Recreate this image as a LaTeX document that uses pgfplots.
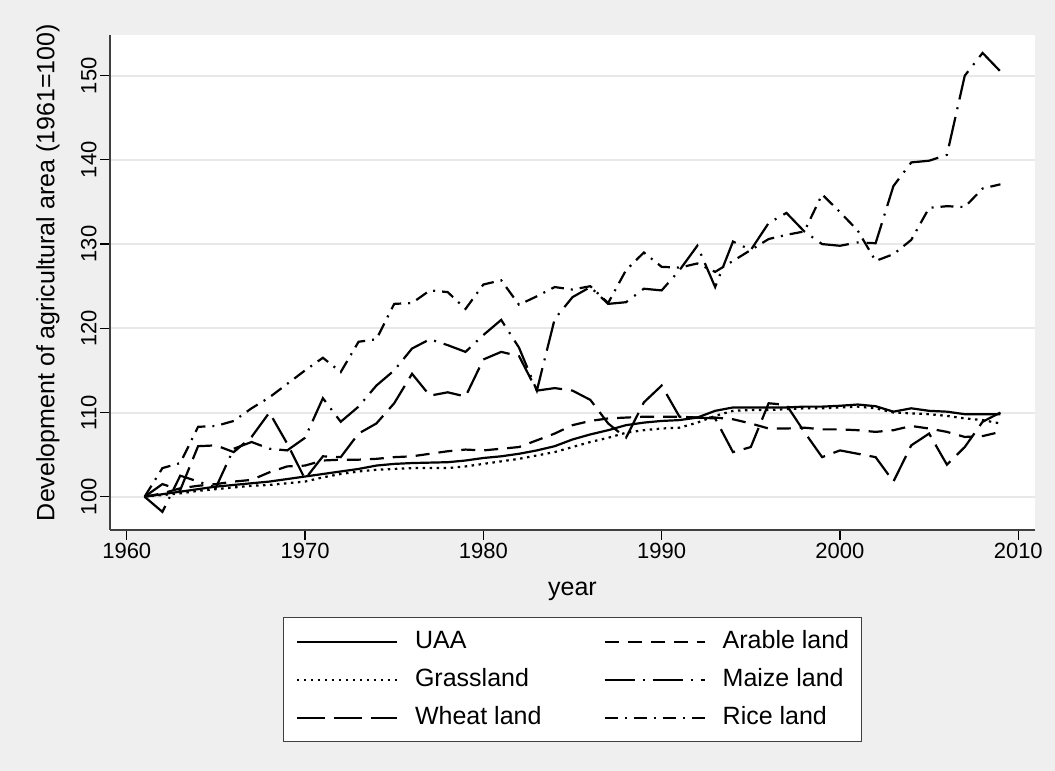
\documentclass[border=0pt]{standalone}
\usepackage{pgfplots}
\pgfplotsset{compat=1.18}
\usepackage{pgfplotstable}
\usepackage{fontspec}
\setmainfont{Liberation Sans}
\definecolor{bg}{RGB}{239,239,239}
\definecolor{gridc}{RGB}{232,232,232}
\definecolor{axc}{RGB}{64,64,64}

\pgfplotstableread{
year uaa arable grass maize wheat rice
1961 100.0 100.0 100.0 100.0 100.0 100.0
1962 100.3 100.4 100.2 98.2 101.5 103.4
1963 100.6 101.0 100.4 102.5 100.8 104.0
1964 100.9 101.3 100.7 101.8 106.0 108.3
1965 101.2 101.5 100.9 101.1 106.1 108.4
1966 101.4 101.8 101.1 105.7 105.3 109.0
1967 101.6 102.0 101.3 106.5 107.1 110.5
1968 101.8 102.9 101.4 105.7 110.0 111.8
1969 102.1 103.6 101.6 105.5 106.3 113.4
1970 102.4 103.7 101.8 107.0 102.1 115.0
1971 102.7 104.3 102.3 111.7 104.8 116.5
1972 103.0 104.4 102.7 108.9 104.7 114.8
1973 103.3 104.4 103.0 110.7 107.5 118.4
1974 103.7 104.5 103.2 113.2 108.7 118.7
1975 103.9 104.7 103.3 115.0 111.1 122.9
1976 104.0 104.8 103.4 117.6 114.6 123.0
1977 104.05 105.1 103.4 118.7 112.0 124.5
1978 104.1 105.4 103.4 118.0 112.4 124.3
1979 104.3 105.6 103.6 117.2 111.9 122.3
1980 104.6 105.5 103.9 119.2 116.3 125.2
1981 104.8 105.7 104.2 121.0 117.2 125.7
1982 105.1 105.9 104.5 117.7 116.7 122.8
1983 105.5 106.7 104.9 112.6 112.6 123.8
1984 106.0 107.5 105.3 121.1 112.9 124.9
1985 106.8 108.5 105.9 123.7 112.6 124.6
1986 107.4 109.0 106.5 124.9 111.5 125.0
1987 107.9 109.3 107.0 122.9 108.7 123.0
1988 108.5 109.4 107.6 123.1 107.0 126.9
1989 108.8 109.5 107.9 124.7 111.2 129.0
1990 109.0 109.5 108.1 124.5 113.2 127.3
1991 109.1 109.5 108.2 126.9 109.5 127.2
1992 109.4 109.4 108.8 129.8 109.4 127.7
1993 110.2 109.4 109.6 124.9 109.3 126.7
1994 110.6 109.2 110.2 130.3 105.3 128.0
1995 110.6 108.7 110.3 129.3 105.9 129.3
1996 110.6 108.1 110.3 132.5 111.1 130.6
1997 110.6 108.1 110.4 133.7 110.9 131.1
1998 110.7 108.2 110.5 131.5 107.7 131.5
1999 110.7 108.0 110.5 130.0 104.7 135.9
2000 110.8 108.0 110.6 129.8 105.5 133.8
2001 110.95 107.9 110.7 130.2 105.1 131.6
2002 110.75 107.7 110.5 130.1 104.7 128.0
2003 110.1 107.9 110.0 136.9 101.8 128.8
2004 110.5 108.4 109.9 139.7 106.1 130.5
2005 110.2 108.1 109.8 139.9 107.5 134.3
2006 110.1 107.7 109.6 140.6 103.8 134.5
2007 109.8 107.1 109.3 150.0 105.9 134.4
2008 109.8 107.2 109.1 152.7 108.9 136.6
2009 109.8 107.7 108.7 150.5 110.0 137.1
}\datatab

\begin{document}
\begin{tikzpicture}[x=1bp,y=1bp]
\useasboundingbox (0,0) rectangle (1055,771);
\fill[bg] (0,0) rectangle (1055,771);
\begin{axis}[
  at={(110bp,241bp)}, anchor=south west,
  width=925bp, height=495bp, scale only axis,
  xmin=1959.06, xmax=2010.94, ymin=96.05, ymax=154.83,
  axis lines*=left,
  axis line style={axc, line width=1.6bp},
  axis background/.style={fill=white},
  xtick={1960,1970,...,2010}, ytick={100,110,...,150},
  tick align=outside, major tick length=10bp,
  tick style={black, line width=1.2bp},
  ymajorgrids, grid style={gridc, line width=2bp},
  /pgf/number format/assume math mode=true,
  /pgf/number format/1000 sep={},
  ticklabel style={font=\fontsize{22bp}{26bp}\selectfont},
  yticklabel style={rotate=90, anchor=south},
  xlabel={year}, ylabel={Development of agricultural area (1961=100)},
  label style={font=\fontsize{25bp}{30bp}\selectfont},
  xlabel style={at={(axis description cs:0.5,-0.124)}, anchor=center},
  ylabel style={at={(axis description cs:-0.0670,0.52)}, anchor=center, rotate=0},
  legend columns=2,
  legend cell align=left,
  legend style={at={(0.5,-0.1758)}, anchor=north, draw=axc, line width=1.2bp,
    fill=white, font=\fontsize{25bp}{30bp}\selectfont,
    inner xsep=12bp, inner ysep=5.5bp, row sep=1bp,
    nodes={inner xsep=0bp, inner ysep=6bp, text height=19bp, text depth=6bp},
    /tikz/every odd column/.append style={column sep=17bp},
    /tikz/every even column/.append style={column sep=62bp}},
  legend image code/.code={\draw[#1] (0bp,0bp) -- (100bp,0bp);},
  every axis plot/.append style={black, line width=2.2bp},
]
\addplot[solid] table[x=year, y=uaa] {\datatab};
\addlegendentry{UAA}
\addplot[dash pattern=on 14bp off 9bp] table[x=year, y=arable] {\datatab};
\addlegendentry{Arable land}
\addplot[dash pattern=on 2.5bp off 4.5bp] table[x=year, y=grass] {\datatab};
\addlegendentry{Grassland}
\addplot[dash pattern=on 30bp off 8bp on 2bp off 8bp] table[x=year, y=maize] {\datatab};
\addlegendentry{Maize land}
\addplot[dash pattern=on 28bp off 9bp] table[x=year, y=wheat] {\datatab};
\addlegendentry{Wheat land}
\addplot[dash pattern=on 13bp off 7bp on 2bp off 7bp] table[x=year, y=rice] {\datatab};
\addlegendentry{Rice land}
\end{axis}
\end{tikzpicture}
\end{document}
